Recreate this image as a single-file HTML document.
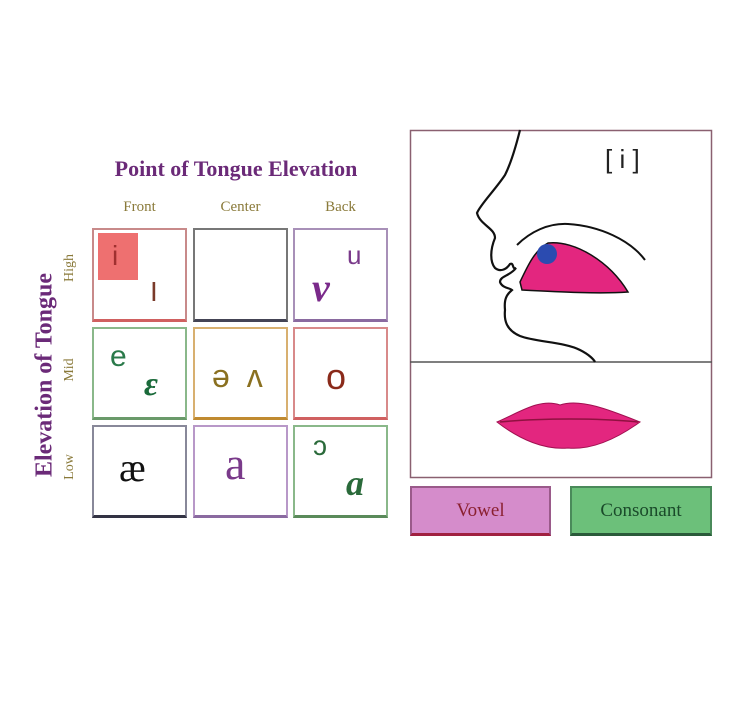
<!DOCTYPE html>
<html><head><meta charset="utf-8"><style>
body{margin:0;width:748px;height:720px;background:#fff;position:relative;overflow:hidden;font-family:"Liberation Serif",serif}
.a{position:absolute}
.c{position:absolute;box-sizing:border-box;background:#fff}
.l{position:absolute;font-family:"Liberation Sans",sans-serif}
.btn{position:absolute;box-sizing:border-box;font-size:19px;text-align:center;line-height:46px}
</style></head><body>
<div class="a" style="left:92px;top:156px;width:288px;text-align:center;font-weight:bold;font-size:22px;color:#6b2a78">Point of Tongue Elevation</div>
<div class="a" style="left:92px;top:199px;width:95px;text-align:center;font-size:15px;color:#8a7a3a">Front</div>
<div class="a" style="left:193px;top:199px;width:95px;text-align:center;font-size:15px;color:#8a7a3a">Center</div>
<div class="a" style="left:293px;top:199px;width:95px;text-align:center;font-size:15px;color:#8a7a3a">Back</div>
<div class="a" style="left:45px;top:375px;transform:translate(-50%,-50%) rotate(-90deg);white-space:nowrap;font-weight:bold;font-size:24px;color:#6b2a78">Elevation of Tongue</div>
<div class="a" style="left:70px;top:268px;transform:translate(-50%,-50%) rotate(-90deg);font-size:14px;color:#8a7a3a">High</div>
<div class="a" style="left:70px;top:370px;transform:translate(-50%,-50%) rotate(-90deg);font-size:14px;color:#8a7a3a">Mid</div>
<div class="a" style="left:70px;top:467px;transform:translate(-50%,-50%) rotate(-90deg);font-size:14px;color:#8a7a3a">Low</div>

<div class="c" style="left:92px;top:228px;width:95px;height:94px;border:2px solid #c88a8a;border-bottom:3px solid #d06060"></div>
<div class="a" style="left:98px;top:233px;width:40px;height:47px;background:#ee7070"></div>
<div class="l" style="left:112px;top:240px;font-size:28px;color:#a03030">i</div>
<div class="l" style="left:150px;top:276px;font-size:28px;color:#7a3a2a">I</div>
<div class="c" style="left:193px;top:228px;width:95px;height:94px;border:2px solid #777;border-bottom:3px solid #445"></div>
<div class="c" style="left:293px;top:228px;width:95px;height:94px;border:2px solid #a890b8;border-bottom:3px solid #8a6aa0"></div>
<div class="l" style="left:347px;top:240px;font-size:26px;color:#7a3a8a">u</div>
<div class="a" style="left:312px;top:264px;font-size:40px;font-style:italic;font-weight:bold;color:#7a2a8a">v</div>

<div class="c" style="left:92px;top:327px;width:95px;height:93px;border:2px solid #8ab88a;border-bottom:3px solid #6a9a6a"></div>
<div class="l" style="left:110px;top:340px;font-size:30px;color:#2a7a4a">e</div>
<div class="a" style="left:144px;top:366px;font-size:34px;font-style:italic;font-weight:bold;color:#1a6a3a">ε</div>
<div class="c" style="left:193px;top:327px;width:95px;height:93px;border:2px solid #d8b070;border-bottom:3px solid #c08a30"></div>
<div class="l" style="left:212px;top:358px;font-size:32px;color:#8a7020;letter-spacing:4px">ə ʌ</div>
<div class="c" style="left:293px;top:327px;width:95px;height:93px;border:2px solid #d88a8a;border-bottom:3px solid #d06060"></div>
<div class="l" style="left:326px;top:356px;font-size:36px;color:#8a2a1a">o</div>

<div class="c" style="left:92px;top:425px;width:95px;height:93px;border:2px solid #889;border-bottom:3px solid #334"></div>
<div class="a" style="left:119px;top:444px;font-size:40px;color:#111">æ</div>
<div class="c" style="left:193px;top:425px;width:95px;height:93px;border:2px solid #b898c8;border-bottom:3px solid #8a6aa0"></div>
<div class="a" style="left:225px;top:437px;font-size:46px;color:#7a3a8a">a</div>
<div class="c" style="left:293px;top:425px;width:95px;height:93px;border:2px solid #8ab88a;border-bottom:3px solid #5a8a5a"></div>
<div class="l" style="left:313px;top:430px;font-size:28px;color:#2a6a3a">ɔ</div>
<div class="a" style="left:346px;top:462px;font-size:36px;font-style:italic;font-weight:bold;color:#2a6a3a">a</div>

<svg class="a" style="left:0;top:0" width="748" height="720">
<rect x="410.5" y="130.5" width="301" height="347" fill="none" stroke="#8a6070" stroke-width="1.5"/>
<line x1="410" y1="362" x2="712" y2="362" stroke="#555" stroke-width="1.5"/>
<path d="M520 130 C515 150 510 165 505 175 C495 190 480 205 477 213 C480 225 495 228 495 238 C490 250 490 262 495 268 C500 272 506 270 510 264 C514 262 512 270 516 268 C510 276 500 276 500 282 C502 288 510 288 512 290 C506 295 504 300 505 310 C504 320 506 330 520 336 C535 342 565 342 580 350 C590 355 594 360 595 362" fill="none" stroke="#111" stroke-width="2.2"/>
<path d="M517 245 C530 232 548 223 568 224 C600 226 630 240 645 260" fill="none" stroke="#111" stroke-width="2"/>
<path d="M520 282 C528 265 535 250 548 243 C575 240 610 262 628 292 C600 294 560 292 522 290 Z" fill="#e3267f" stroke="#111" stroke-width="1.5"/>
<circle cx="547" cy="254" r="10" fill="#2b4bb0"/>
<path d="M497 422 C520 412 540 398 560 405 C580 398 610 410 640 422 C615 440 590 450 568 448 C545 450 520 440 497 422 Z" fill="#e3267f" stroke="#a01050" stroke-width="1"/>
<path d="M500 422 C540 418 600 418 638 422" fill="none" stroke="#901040" stroke-width="1.5"/>
<text x="605" y="168" font-family="Liberation Sans" font-size="26" fill="#222">[ i ]</text>
</svg>
<div class="btn" style="left:410px;top:486px;width:141px;height:50px;background:#d58ccb;border:2px solid #9a5a8a;border-bottom:3px solid #a02040;color:#8a2030">Vowel</div>
<div class="btn" style="left:570px;top:486px;width:142px;height:50px;background:#6cc07a;border:2px solid #4a8a5a;border-bottom:3px solid #2a5a3a;color:#1a4a2a">Consonant</div>
</body></html>
